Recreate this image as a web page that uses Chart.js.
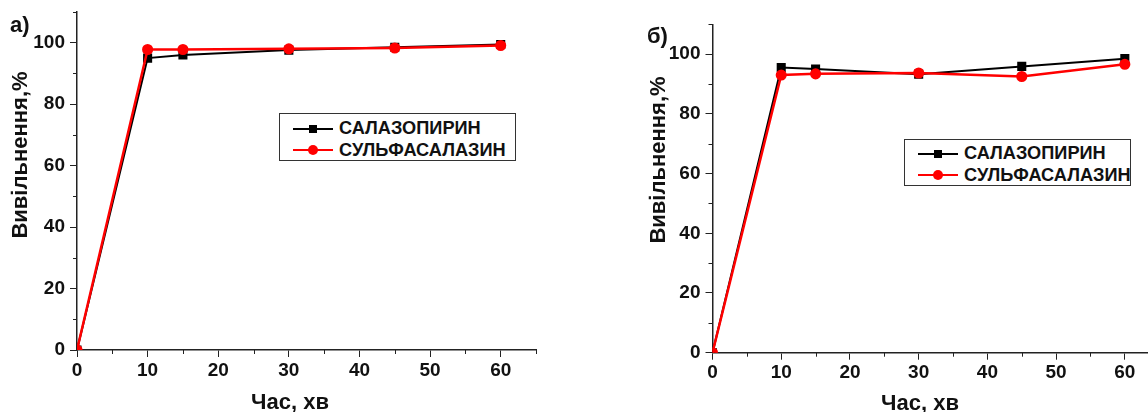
<!DOCTYPE html>
<html>
<head>
<meta charset="utf-8">
<script src="https://cdn.jsdelivr.net/npm/chart.js@4/dist/chart.umd.min.js"></script>
<style>
  html, body { margin: 0; padding: 0; background: #fff; }
  body { width: 1148px; height: 412px; overflow: hidden; position: relative;
         font-family: "Liberation Sans", Arial, sans-serif; font-weight: bold; color: #111; }
  canvas { position: absolute; top: 0; }
  .txt { position: absolute; white-space: nowrap; line-height: 1; }
  .ytitle { transform: translate(-50%, -50%) rotate(-90deg); font-size: 22px; }
  .xtitle { transform: translate(-50%, -50%); font-size: 22px; }
  .plabel { font-size: 22px; }
  .legend { position: absolute; box-sizing: border-box; border: 1px solid #333; background: #fff;
            padding-left: 13px; font-size: 18.2px; }
  .row { display: flex; align-items: center; height: 21.5px; }
  .sample { position: relative; width: 40px; height: 2px; margin-right: 6px; flex: none; }
  .sample i { position: absolute; left: 50%; top: 50%; transform: translate(-50%, -50%); }
</style>
</head>
<body>
<canvas id="chartA" width="560" height="412" style="left:0px"></canvas>
<canvas id="chartB" width="560" height="412" style="left:620px"></canvas>

<div class="txt plabel" style="left:10px;top:14px">а)</div>
<div class="txt plabel" style="left:647px;top:25px">б)</div>
<div class="txt ytitle" style="left:20px;top:155px">Вивільнення,%</div>
<div class="txt ytitle" style="left:658px;top:160px">Вивільнення,%</div>
<div class="txt xtitle" style="left:290px;top:402px">Час, хв</div>
<div class="txt xtitle" style="left:920px;top:403px">Час, хв</div>

<div class="legend" id="legendA" style="left:279px;top:113px;width:237px;height:48px;padding-top:4px"></div>
<div class="legend" id="legendB" style="left:904px;top:139px;width:227px;height:47px;padding-top:3px"></div>

<script>
// time, min
const times = [0, 10, 15, 30, 45, 60];
const seriesNames = ['САЛАЗОПИРИН', 'СУЛЬФАСАЛАЗИН'];

// panel а)
const salazopyrinA = [0, 95.0, 96.0, 97.6, 98.5, 99.4];
const sulfasalazineA = [0, 97.8, 97.8, 98.0, 98.3, 99.1];

// panel б)
const salazopyrinB = [0, 95.5, 95.0, 93.3, 95.9, 98.5];
const sulfasalazineB = [0, 93.0, 93.4, 93.7, 92.5, 96.6];

const colors = ['#000000', '#ff0000'];
const axisColor = '#222';
const tickFont = { family: 'Liberation Sans', size: 19, weight: 'bold' };

const toPoints = (ys) => times.map((t, i) => ({ x: t, y: ys[i] }));

// minor ticks between the labelled ones
const minorTicks = {
  id: 'minorTicks',
  afterDraw(chart) {
    const ctx = chart.ctx;
    const xs = chart.scales.x, ys = chart.scales.y;
    const area = chart.chartArea;
    ctx.save();
    ctx.strokeStyle = axisColor;
    ctx.lineWidth = 1;
    ctx.beginPath();
    for (let v = xs.min + 5; v <= xs.max; v += 10) {
      const px = Math.round(xs.getPixelForValue(v)) + 0.5;
      ctx.moveTo(px, area.bottom);
      ctx.lineTo(px, area.bottom + 4);
    }
    for (let v = ys.min + 10; v <= ys.max; v += 20) {
      const py = Math.round(ys.getPixelForValue(v)) + 0.5;
      ctx.moveTo(area.left, py);
      ctx.lineTo(area.left - 4, py);
    }
    ctx.stroke();
    ctx.restore();
  }
};

function makeChart(id, black, red, box) {
  return new Chart(document.getElementById(id), {
    type: 'line',
    data: {
      datasets: [{
        label: seriesNames[0],
        data: toPoints(black),
        borderColor: colors[0],
        backgroundColor: colors[0],
        borderWidth: 2,
        pointStyle: 'rect',
        pointRadius: 5,
        order: 1
      }, {
        label: seriesNames[1],
        data: toPoints(red),
        borderColor: colors[1],
        backgroundColor: colors[1],
        borderWidth: 2.5,
        pointStyle: 'circle',
        pointRadius: 4.3,
        order: 0
      }]
    },
    options: {
      responsive: false,
      animation: false,
      devicePixelRatio: 1,
      layout: { padding: { left: 0, top: box.top, right: box.right, bottom: 0 } },
      plugins: { legend: { display: false }, tooltip: { enabled: false } },
      scales: {
        x: {
          type: 'linear',
          min: 0, max: 65,
          afterFit(scale) { scale.height = box.xh; scale.paddingLeft = 0; scale.paddingRight = 0; },
          border: { color: axisColor, width: 1.5 },
          grid: { drawOnChartArea: false, drawTicks: true, tickLength: 7, tickColor: axisColor },
          ticks: { stepSize: 10, includeBounds: false, color: '#111', font: tickFont, padding: 2, maxRotation: 0 }
        },
        y: {
          min: 0, max: 110,
          afterFit(scale) { scale.width = box.yw; scale.paddingTop = 0; scale.paddingBottom = 0; },
          border: { color: axisColor, width: 1.5 },
          grid: { drawOnChartArea: false, drawTicks: true, tickLength: 7, tickColor: axisColor },
          ticks: { stepSize: 20, includeBounds: false, color: '#111', font: tickFont, padding: 5 }
        }
      }
    },
    plugins: [minorTicks]
  });
}

makeChart('chartA', salazopyrinA, sulfasalazineA, { top: 12, right: 24, xh: 62, yw: 77 });
makeChart('chartB', salazopyrinB, sulfasalazineB, { top: 24.3, right: 20.8, xh: 59.3, yw: 92.5 });

function buildLegend(el) {
  seriesNames.forEach((name, i) => {
    const row = document.createElement('div');
    row.className = 'row';
    const sample = document.createElement('span');
    sample.className = 'sample';
    sample.style.background = colors[i];
    const mark = document.createElement('i');
    if (i === 0) {
      mark.style.cssText = 'width:8px;height:8px;background:' + colors[i];
    } else {
      mark.style.cssText = 'width:10px;height:10px;border-radius:50%;background:' + colors[i];
    }
    sample.appendChild(mark);
    row.appendChild(sample);
    row.appendChild(document.createTextNode(name));
    el.appendChild(row);
  });
}
buildLegend(document.getElementById('legendA'));
buildLegend(document.getElementById('legendB'));
</script>
</body>
</html>
